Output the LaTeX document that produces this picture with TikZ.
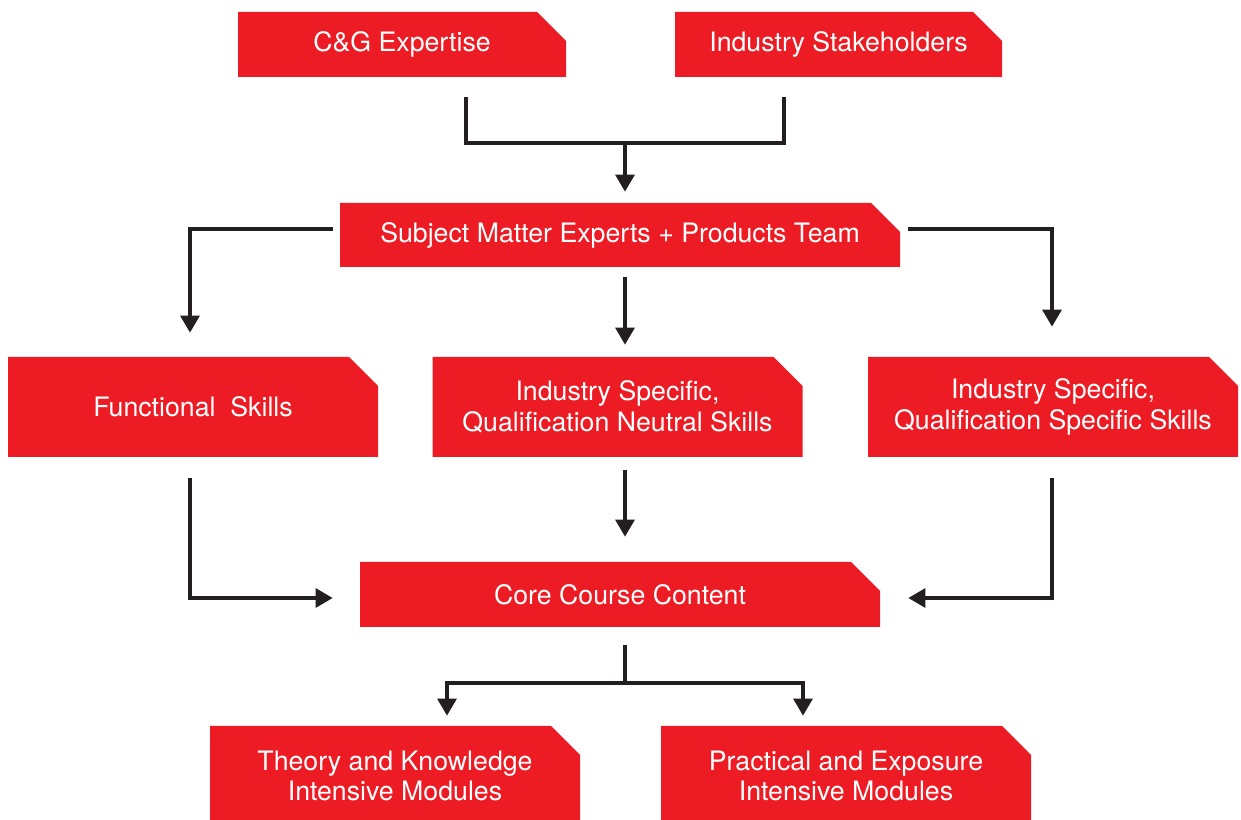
\documentclass[tikz,border=0pt]{standalone}
\usepackage{fontspec}
\setmainfont{TeX Gyre Heros}
\usetikzlibrary{arrows.meta,positioning}

\definecolor{cgred}{HTML}{ED1C24}
\definecolor{cgdark}{HTML}{231F20}

\tikzset{
  box/.style={minimum height=1.3cm, minimum width=7.4cm, inner sep=0pt,
    align=center, text=white, font=\fontsize{15.2}{17.6}\selectfont,
    path picture={\fill[cgred] (path picture bounding box.south west)
      |- ([xshift=-0.58cm]path picture bounding box.north east)
      -- ([yshift=-0.58cm]path picture bounding box.north east)
      |- cycle;}},
  link/.style={draw=cgdark, line width=1.8pt},
  arr/.style={link, -{Triangle[width=0.38cm,length=0.34cm]}}
}

\begin{document}
\begin{tikzpicture}
  \useasboundingbox (0,0) rectangle (24.82,16.4);

  \node[box, minimum width=6.56cm] (CG) at (8.04,15.51) {C\&G Expertise};
  \node[box, minimum width=6.54cm] (Stakeholders) [right of=CG, node distance=8.73cm] {Industry Stakeholders};

  \node[box, minimum width=11.2cm, minimum height=1.28cm] (SME) at (12.4,11.7) {Subject Matter Experts + Products Team};

  \node[box, minimum height=2cm] (Neutral) at (12.35,8.26) {Industry Specific,\\Qualification Neutral Skills};
  \node[box, minimum height=2cm] (Functional) [left of=Neutral, node distance=8.49cm] {Functional\ \ Skills};
  \node[box, minimum height=2cm] (Specific) [right of=Neutral, node distance=8.71cm] {Industry Specific,\\Qualification Specific Skills};

  \node[box, minimum width=10.4cm] (Core) at (12.4,4.51) {Core Course Content};

  \node[box, minimum height=2cm] (Theory) at (7.9,0.88) {Theory and Knowledge\\Intensive Modules};
  \node[box, minimum height=2cm] (Practical) [right of=Theory, node distance=9.02cm] {Practical and Exposure\\Intensive Modules};

  \coordinate (topjoin) at (12.5,13.54);
  \coordinate (midcol) at (12.5,0);
  \coordinate (corejoin) at (12.5,2.74);

  % inputs
  \draw[link] ([xshift=1.28cm,yshift=-0.4cm]CG.south) |- (topjoin)
    -| ([xshift=-1.09cm,yshift=-0.4cm]Stakeholders.south);
  \draw[arr] (topjoin) -- ([yshift=0.22cm]SME.north -| midcol);

  % skills
  \draw[arr] ([xshift=-0.14cm,yshift=0.12cm]SME.west) -| ([xshift=-0.06cm,yshift=0.48cm]Functional.north);
  \draw[arr] ([yshift=-0.2cm]SME.south -| midcol) -- ([yshift=0.24cm]Neutral.north -| midcol);
  \draw[arr] ([xshift=0.16cm,yshift=0.12cm]SME.east) -| ([xshift=-0.02cm,yshift=0.6cm]Specific.north);

  % core
  \draw[arr] ([xshift=-0.06cm,yshift=-0.42cm]Functional.south) |- ([xshift=-0.54cm,yshift=-0.07cm]Core.west);
  \draw[arr] ([yshift=-0.26cm]Neutral.south -| midcol) -- ([yshift=0.5cm]Core.north -| midcol);
  \draw[arr] ([xshift=-0.02cm,yshift=-0.42cm]Specific.south) |- ([xshift=0.56cm,yshift=-0.07cm]Core.east);

  % modules
  \draw[link] ([yshift=-0.36cm]Core.south -| midcol) -- (corejoin);
  \draw[arr] (corejoin) -| ([xshift=1.04cm,yshift=0.2cm]Theory.north);
  \draw[arr] (corejoin) -| ([xshift=-0.86cm,yshift=0.2cm]Practical.north);
\end{tikzpicture}
\end{document}
